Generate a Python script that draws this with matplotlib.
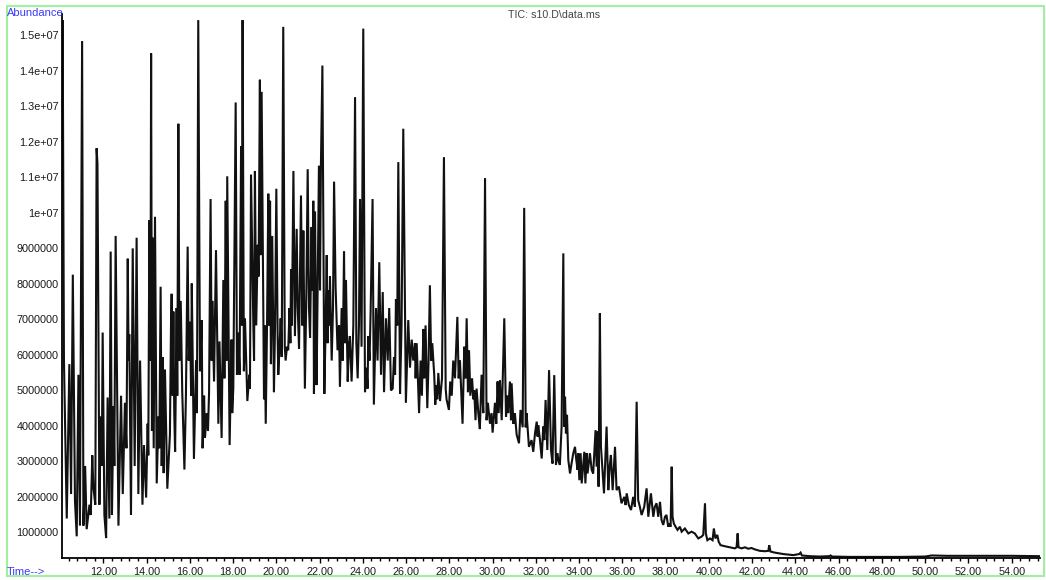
import matplotlib
matplotlib.use("Agg")
import matplotlib.pyplot as plt
import matplotlib.ticker as mticker
from matplotlib.patches import Rectangle
import numpy as np

plt.rcParams["font.family"] = ["Liberation Sans", "DejaVu Sans"]

# Data: retention time (min) and abundance (millions)
t_early = [10.09, 10.12, 10.18, 10.31, 10.43, 10.51, 10.59, 10.69, 10.77, 10.85, 10.92, 11.02, 11.08, 11.16,
           11.23, 11.36, 11.42, 11.49, 11.54, 11.63, 11.69, 11.73, 11.82, 11.88, 11.93, 11.97, 12.05, 12.13,
           12.20, 12.28, 12.34, 12.40, 12.47, 12.51, 12.57, 12.70, 12.82, 12.90, 13.00, 13.07, 13.13, 13.17,
           13.20, 13.28, 13.36, 13.45, 13.54, 13.62, 13.70, 13.81, 13.88, 13.98, 14.05, 14.08, 14.13, 14.18,
           14.21, 14.25, 14.28, 14.33, 14.39, 14.47, 14.55, 14.59, 14.65, 14.70, 14.75, 14.79, 14.85, 14.96,
           15.08, 15.13, 15.16, 15.21, 15.24, 15.28, 15.32, 15.39, 15.42, 15.47, 15.52, 15.58, 15.65, 15.75,
           15.82, 15.90, 15.95, 16.01, 16.06, 16.09, 16.19, 16.29, 16.33, 16.39, 16.47, 16.55, 16.59, 16.66,
           16.70, 16.78, 16.84, 16.89, 16.96, 17.01, 17.04, 17.12, 17.21, 17.32, 17.37]
v_early = [10.6, 15.42, 5.83, 1.38, 5.73, 2.07, 8.25, 1.87, 0.88, 5.43, 1.18, 14.83, 1.18, 2.86,
           1.08, 1.77, 1.48, 3.16, 2.27, 1.77, 11.81, 11.37, 1.77, 4.25, 2.86, 6.62, 1.48, 0.83,
           4.79, 1.38, 8.90, 1.48, 4.54, 2.86, 9.34, 1.18, 4.84, 2.07, 4.64, 3.36, 8.70, 5.83,
           6.57, 1.48, 8.99, 2.86, 9.29, 2.07, 5.83, 1.77, 3.45, 1.97, 4.05, 3.16, 9.78, 5.83,
           14.48, 3.85, 9.29, 3.36, 9.88, 2.37, 4.25, 3.36, 7.91, 2.86, 5.93, 2.66, 5.58, 2.22,
           3.75, 6.82, 7.71, 4.84, 7.21, 4.35, 3.26, 7.31, 4.84, 12.50, 5.83, 7.51, 4.94, 2.76,
           4.84, 9.04, 5.83, 6.92, 4.84, 8.00, 3.06, 5.83, 4.35, 15.42, 5.53, 6.97, 3.36, 4.84,
           3.65, 4.35, 3.85, 4.94, 10.38, 5.83, 7.51, 5.24, 8.94, 4.05, 6.37]

t_mid = [17.47, 17.55, 17.60, 17.66, 17.70, 17.73, 17.84, 17.93, 17.96, 18.01, 18.12, 18.18, 18.24, 18.30,
         18.37, 18.40, 18.44, 18.50, 18.55, 18.66, 18.75, 18.78, 18.83, 18.94, 18.97, 19.01, 19.07, 19.14,
         19.18, 19.24, 19.27, 19.32, 19.43, 19.46, 19.51, 19.57, 19.63, 19.66, 19.71, 19.75, 19.81, 19.89,
         19.94, 20.00, 20.06, 20.09, 20.15, 20.20, 20.25, 20.32, 20.39, 20.43, 20.49, 20.55, 20.61, 20.65,
         20.68, 20.72, 20.79, 20.86, 20.94, 20.99, 21.05, 21.14, 21.20, 21.25, 21.32, 21.39, 21.45, 21.51,
         21.56, 21.63, 21.66, 21.71, 21.74, 21.79, 21.86, 21.91, 21.97, 22.02, 22.06, 22.13, 22.22, 22.28,
         22.33, 22.37, 22.40, 22.45, 22.48, 22.56, 22.62, 22.67, 22.74, 22.83, 22.90, 22.94, 23.02, 23.07,
         23.13, 23.17, 23.22, 23.30, 23.36, 23.40, 23.48, 23.56, 23.64, 23.70, 23.76, 23.82, 23.87, 23.94,
         24.02, 24.10, 24.17, 24.22, 24.25, 24.31, 24.36]
v_mid = [3.65, 8.10, 5.33, 10.33, 5.83, 11.02, 3.45, 6.42, 4.35, 5.04, 13.10, 5.43, 6.62, 5.43,
         11.86, 6.82, 15.42, 5.53, 7.02, 4.69, 5.43, 5.04, 11.07, 6.72, 5.83, 11.17, 6.82, 9.09,
         8.20, 13.74, 8.80, 13.40, 4.74, 6.82, 4.05, 6.82, 10.53, 6.82, 10.33, 5.73, 9.34, 4.94,
         6.82, 10.67, 6.52, 5.43, 6.22, 7.02, 5.93, 15.23, 6.22, 5.83, 6.22, 6.12, 7.31, 6.32,
         8.40, 6.82, 11.17, 6.52, 9.54, 7.31, 6.17, 10.48, 6.82, 9.49, 5.04, 7.81, 11.22, 7.31,
         6.47, 9.59, 7.81, 10.33, 4.89, 10.03, 5.14, 7.81, 11.32, 7.81, 11.27, 14.14, 4.89, 6.82,
         8.80, 6.32, 7.81, 6.82, 8.20, 5.83, 7.31, 10.87, 7.91, 6.12, 6.82, 5.09, 7.31, 5.83,
         8.90, 6.32, 8.10, 5.24, 6.32, 6.52, 5.24, 6.82, 13.25, 6.32, 5.33, 6.82, 10.38, 6.22,
         15.18, 4.94, 5.63, 5.04, 6.52, 5.83, 7.21]

t_late = [24.45, 24.51, 24.61, 24.68, 24.76, 24.84, 24.92, 24.98, 25.07, 25.15, 25.22, 25.30, 25.38, 25.44,
          25.49, 25.53, 25.59, 25.64, 25.72, 25.79, 25.87, 25.99, 26.10, 26.18, 26.26, 26.33, 26.41, 26.44,
          26.49, 26.60, 26.67, 26.73, 26.80, 26.84, 26.90, 26.98, 27.04, 27.10, 27.16, 27.21, 27.30, 27.35,
          27.38, 27.44, 27.49, 27.57, 27.66, 27.75, 27.83, 27.87, 27.98, 28.04, 28.11, 28.18, 28.26, 28.37,
          28.43, 28.49, 28.61, 28.69, 28.75, 28.80, 28.86, 28.91, 28.97, 29.05, 29.11, 29.15, 29.21, 29.26,
          29.34, 29.41, 29.49, 29.57, 29.65, 29.72, 29.78, 29.88, 29.95, 30.00, 30.11, 30.17, 30.23, 30.28,
          30.34, 30.42, 30.54, 30.62, 30.68, 30.72, 30.80, 30.85, 30.88, 30.96, 31.03, 31.11, 31.22, 31.29,
          31.39, 31.46, 31.53, 31.57, 31.68]
v_late = [10.38, 4.59, 7.31, 5.83, 8.60, 5.43, 7.76, 4.94, 7.02, 5.83, 7.31, 4.99, 5.04, 5.93,
          5.43, 7.56, 6.82, 11.42, 4.89, 6.82, 12.36, 4.64, 6.97, 5.63, 6.42, 5.83, 6.32, 5.33,
          6.32, 4.35, 5.83, 4.84, 6.72, 5.33, 6.82, 4.49, 5.83, 7.95, 5.83, 6.32, 5.43, 4.59,
          5.14, 4.74, 5.48, 4.69, 5.33, 11.56, 5.04, 4.74, 4.44, 5.24, 4.84, 5.83, 5.33, 7.06,
          5.33, 5.83, 4.05, 6.22, 5.33, 7.02, 4.94, 6.12, 4.84, 5.33, 4.74, 4.99, 4.15, 5.04,
          4.35, 3.90, 5.43, 4.35, 10.97, 4.15, 4.64, 4.05, 4.35, 3.80, 4.64, 4.05, 5.24, 4.35,
          5.28, 4.15, 7.02, 4.25, 4.84, 4.35, 5.24, 4.15, 5.19, 4.05, 4.35, 3.75, 3.50, 4.44,
          3.95, 10.13, 3.95, 4.35, 3.40]

t_decay = [31.80, 31.88, 31.96, 32.04, 32.08, 32.11, 32.19, 32.27, 32.34, 32.39, 32.45, 32.53, 32.61, 32.70,
           32.77, 32.85, 32.93, 32.99, 33.04, 33.11, 33.19, 33.27, 33.31, 33.35, 33.39, 33.44, 33.50, 33.58,
           33.65, 33.73, 33.81, 33.87, 33.93, 33.96, 34.01, 34.07, 34.12, 34.24, 34.29, 34.35, 34.39, 34.50,
           34.58, 34.65, 34.76, 34.81, 34.86, 34.90, 34.96, 35.01, 35.07, 35.15, 35.27, 35.35, 35.41, 35.47,
           35.55, 35.66, 35.73, 35.84, 35.96, 36.09, 36.15, 36.20, 36.30, 36.40, 36.50, 36.58, 36.66, 36.73,
           36.81, 36.89, 37.01, 37.12, 37.20, 37.32, 37.43, 37.50, 37.58, 37.66, 37.74, 37.81, 37.89, 37.97,
           38.04, 38.12, 38.17, 38.23, 38.28, 38.32, 38.38, 38.46, 38.55, 38.66, 38.74, 38.89, 39.05, 39.20,
           39.35, 39.51]
v_decay = [3.59, 3.26, 3.78, 4.11, 3.69, 4.01, 3.59, 3.07, 3.97, 3.59, 4.72, 3.31, 5.56, 3.31,
           2.93, 5.42, 2.89, 3.22, 3.03, 2.89, 3.97, 8.85, 3.97, 4.81, 3.78, 4.30, 3.03, 2.65,
           2.93, 3.22, 3.40, 3.03, 2.75, 3.22, 2.46, 3.22, 2.37, 3.26, 2.37, 3.22, 2.65, 3.22,
           2.75, 2.65, 3.87, 2.84, 3.83, 2.28, 7.16, 3.40, 2.84, 2.09, 3.97, 2.18, 2.84, 3.17,
           2.18, 3.40, 2.18, 2.28, 1.81, 1.99, 1.76, 2.09, 1.76, 1.62, 1.99, 1.71, 4.67, 1.90,
           1.71, 1.48, 1.71, 2.23, 1.43, 2.09, 1.43, 1.71, 1.81, 1.43, 1.85, 1.34, 1.20, 1.43,
           1.48, 1.15, 1.24, 1.15, 2.84, 1.43, 1.24, 1.15, 1.06, 1.15, 1.01, 1.10, 0.96, 1.01,
           0.96, 0.82]

t_tail = [39.66, 39.74, 39.82, 39.86, 39.93, 40.05, 40.17, 40.23, 40.30, 40.39, 40.45, 40.54, 40.74, 40.97,
          41.20, 41.28, 41.33, 41.37, 41.51, 41.67, 41.82, 41.97, 42.13, 42.36, 42.59, 42.75, 42.79, 42.85,
          43.05, 43.44, 43.90, 44.18, 44.24, 44.30, 44.67, 45.13, 45.56, 45.63, 45.69, 46.52, 47.60, 48.83,
          50.00, 50.30, 51.00, 52.00, 53.00, 54.00, 55.31]
v_tail = [0.87, 0.92, 1.81, 0.96, 0.77, 0.82, 0.77, 1.10, 0.82, 0.92, 0.73, 0.63, 0.60, 0.57,
          0.54, 0.57, 0.96, 0.57, 0.54, 0.57, 0.53, 0.55, 0.51, 0.47, 0.46, 0.47, 0.63, 0.45,
          0.42, 0.38, 0.35, 0.38, 0.42, 0.34, 0.32, 0.31, 0.32, 0.34, 0.31, 0.30, 0.30, 0.30,
          0.31, 0.34, 0.33, 0.33, 0.33, 0.33, 0.32]

x_ticks = [12, 14, 16, 18, 20, 22, 24, 26, 28, 30, 32, 34, 36, 38, 40, 42, 44, 46, 48, 50, 52, 54]
y_ticks = [1e6, 2e6, 3e6, 4e6, 5e6, 6e6, 7e6, 8e6, 9e6, 1e7, 1.1e7, 1.2e7, 1.3e7, 1.4e7, 1.5e7]
y_labels = ["1000000", "2000000", "3000000", "4000000", "5000000", "6000000", "7000000", "8000000",
            "9000000", "1e+07", "1.1e+07", "1.2e+07", "1.3e+07", "1.4e+07", "1.5e+07"]

time = np.concatenate([t_early, t_mid, t_late, t_decay, t_tail])
abund = np.concatenate([v_early, v_mid, v_late, v_decay, v_tail]) * 1e6

# Figure
W, H = 1046, 580
fig = plt.figure(figsize=(W / 100, H / 100), dpi=100)
ax = fig.add_axes([62 / W, 22.4 / H, 978 / W, 543.9 / H])

ax.plot(time, abund, color="#111111", linewidth=1.5, solid_joinstyle="miter")

ax.set_xlim(10.09, 55.31)
ax.set_ylim(0.28e6, 15.6e6)

ax.set_xticks(x_ticks)
ax.set_xticklabels([f"{x:.2f}" for x in x_ticks])
ax.xaxis.set_minor_locator(mticker.MultipleLocator(0.4))
ax.set_yticks(y_ticks)
ax.set_yticklabels(y_labels)

ax.tick_params(axis="x", which="major", length=3.6, width=1.0, pad=3.0, labelsize=7.8, labelcolor="#1a1a1a")
ax.tick_params(axis="x", which="minor", length=2.2, width=1.0)
ax.tick_params(axis="y", length=0, pad=2.5, labelsize=7.8, labelcolor="#1a1a1a")

ax.spines[["top", "right"]].set_visible(False)
for s in ["left", "bottom"]:
    ax.spines[s].set_linewidth(1.3)

# Labels around the plot
fig.text(7 / W, 1 - 13.3 / H, "Abundance", color="#3a3aff", fontsize=8, ha="left", va="center")
fig.text(7 / W, 1 - 571.7 / H, "Time-->", color="#3a3aff", fontsize=8, ha="left", va="center")
fig.text(554 / W, 1 - 15 / H, "TIC: s10.D\\data.ms", color="#444444", fontsize=7.7, ha="center", va="center")

# Green frame
fig.add_artist(Rectangle((6.7 / W, 4.5 / H), (1043.5 - 6.7) / W, (575.5 - 6.3) / H,
                         transform=fig.transFigure, fill=False, edgecolor="#a0f0a0", linewidth=1.5))

fig.savefig("out.png", dpi=100)
